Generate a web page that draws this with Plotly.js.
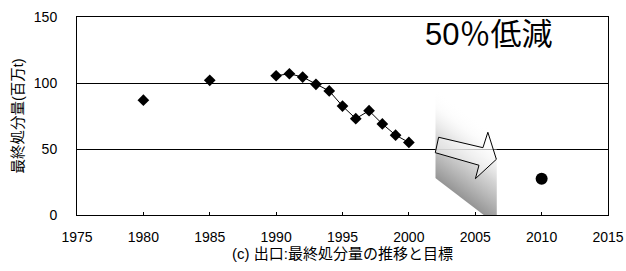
<!DOCTYPE html>
<html>
<head>
<meta charset="utf-8">
<script src="https://cdn.plot.ly/plotly-3.0.1.min.js"></script>
<style>html,body{margin:0;padding:0;background:#fff;}#chart{width:626px;height:271px;}</style>
</head>
<body>
<div id="chart"></div>
<script>
// ---- data ----
const earlyYears = [1980, 1985];
const earlyValues = [87, 102];
const trendYears = [1990, 1991, 1992, 1993, 1994, 1995, 1996, 1997, 1998, 1999, 2000];
const trendValues = [105.5, 107, 104.5, 99, 94, 82.5, 73, 79, 69, 60.5, 55];
const targetYears = [2010];
const targetValues = [27.5];
const xTickVals = [1975, 1980, 1985, 1990, 1995, 2000, 2005, 2010, 2015];
const yTickVals = [0, 50, 100, 150];
const yTitle = '最終処分量(百万t)';
const xTitle = '(c) 出口:最終処分量の推移と目標';
const noteText = '50％低減';

// ---- decoration geometry (data coords) ----
const arrowPts = [[2002.24,58.9],[2005.58,51.0],[2005.95,62.7],[2006.59,42.2],[2005.01,27.5],[2005.28,37.7],[2001.99,47.2]];
const arrowPath = 'M' + arrowPts.map(p => p[0] + ',' + p[1]).join(' L') + ' Z';

const gradSvg = '<svg xmlns="http://www.w3.org/2000/svg" width="62" height="137" viewBox="0 0 62 137" preserveAspectRatio="none">' +
  '<defs><linearGradient id="g" gradientUnits="userSpaceOnUse" x1="0" y1="0" x2="-43" y2="57.2">' +
  '<stop offset="0" stop-color="#ffffff" stop-opacity="0"/>' +
  '<stop offset="0.2" stop-color="#f6f6f6" stop-opacity="0.4"/>' +
  '<stop offset="0.55" stop-color="#cccccc" stop-opacity="0.85"/>' +
  '<stop offset="1" stop-color="#909090" stop-opacity="0.95"/>' +
  '</linearGradient></defs>' +
  '<polygon points="0,0 62,47 62,137 0,90" fill="url(#g)"/></svg>';
const gradSrc = 'data:image/svg+xml;charset=utf-8,' + encodeURIComponent(gradSvg);

const FONT = 'Liberation Sans, Arial, Noto Sans CJK JP, sans-serif';
const CJK = 'Liberation Sans, Noto Sans CJK JP, sans-serif';

const diamond = {symbol: 'diamond', size: 9, color: '#000'};

const traces = [
  {x: earlyYears, y: earlyValues, type: 'scatter', mode: 'markers', marker: diamond, hoverinfo: 'skip'},
  {x: trendYears, y: trendValues, type: 'scatter', mode: 'lines+markers', marker: diamond,
   line: {color: '#000', width: 1}, hoverinfo: 'skip'},
  {x: targetYears, y: targetValues, type: 'scatter', mode: 'markers',
   marker: {symbol: 'circle', size: 12, color: '#000'}, hoverinfo: 'skip'}
];

const layout = {
  width: 626, height: 271,
  margin: {l: 77, r: 17.5, t: 17, b: 56},
  paper_bgcolor: '#fff', plot_bgcolor: '#fff',
  showlegend: false,
  font: {family: FONT, size: 14, color: '#000'},
  xaxis: {
    range: [1975, 2015], tickvals: xTickVals, ticktext: xTickVals.map(String),
    ticks: 'inside', ticklen: 3, tickcolor: '#000', tickwidth: 1,
    showline: true, linecolor: '#000', linewidth: 1, mirror: true,
    showgrid: false, zeroline: false,
    ticklabelstandoff: 9,
    tickfont: {family: FONT, size: 14, color: '#000'},
    title: {text: xTitle, font: {family: CJK, size: 15, color: '#000'}, standoff: 2}
  },
  yaxis: {
    range: [0, 150], tickvals: yTickVals,
    ticks: '', showline: true, linecolor: '#000', linewidth: 1, mirror: true,
    showgrid: true, gridcolor: '#000', gridwidth: 1, zeroline: false,
    ticklabelstandoff: 16,
    tickfont: {family: FONT, size: 14, color: '#000'},
    title: {text: yTitle, font: {family: CJK, size: 14.5, color: '#000'}, standoff: 6}
  },
  images: [{
    source: gradSrc, xref: 'x', yref: 'y', x: 2001.99, y: 96.2,
    sizex: 4.64, sizey: 103.8, sizing: 'stretch', xanchor: 'left', yanchor: 'top', layer: 'above'
  }],
  shapes: [{
    type: 'path', xref: 'x', yref: 'y', path: arrowPath,
    line: {color: '#000', width: 1}, fillcolor: 'rgba(255,255,255,0.45)', layer: 'above'
  }],
  annotations: [{
    text: noteText, xref: 'x', yref: 'y', x: 2006.0, y: 136.4,
    showarrow: false, xanchor: 'center', yanchor: 'middle',
    font: {family: CJK, size: 31, color: '#000'}
  }]
};

Plotly.newPlot('chart', traces, layout, {staticPlot: true, displayModeBar: false});
</script>
</body>
</html>
